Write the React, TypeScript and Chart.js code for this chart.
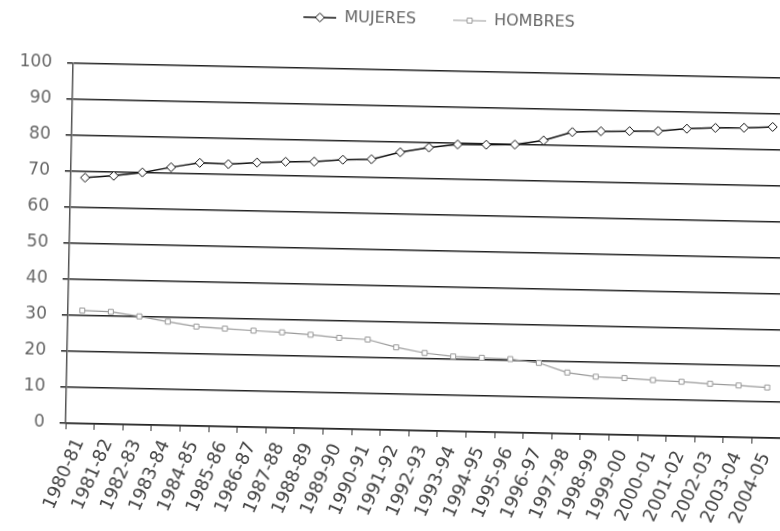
import React, { useEffect, useRef } from "react";
import { Chart, registerables } from "chart.js";

Chart.register(...registerables);

const CATEGORIES = [
  "1980-81", "1981-82", "1982-83", "1983-84", "1984-85", "1985-86", "1986-87",
  "1987-88", "1988-89", "1989-90", "1990-91", "1991-92", "1992-93", "1993-94",
  "1994-95", "1995-96", "1996-97", "1997-98", "1998-99", "1999-00", "2000-01",
  "2001-02", "2002-03", "2003-04", "2004-05",
];

const MUJERES = [
  68.3, 69.0, 70.1, 71.7, 73.1, 72.9, 73.5, 73.9, 74.1, 74.8, 75.1, 77.2, 78.7,
  79.7, 79.8, 80.0, 81.3, 83.8, 84.2, 84.4, 84.6, 85.4, 85.8, 86.0, 86.4,
];

const HOMBRES = [
  31.4, 31.2, 30.1, 28.8, 27.6, 27.2, 26.8, 26.5, 26.0, 25.3, 25.0, 23.0, 21.6,
  20.8, 20.6, 20.4, 19.5, 17.0, 16.0, 15.8, 15.4, 15.1, 14.7, 14.4, 14.0,
];

const SERIES_NAMES = ["MUJERES", "HOMBRES"];

const W = 842;
const H = 531;

function legendImage(kind: number): HTMLCanvasElement {
  const c = document.createElement("canvas");
  c.width = 59;
  c.height = 12;
  const ctx = c.getContext("2d")!;
  const cy = 6;
  if (kind === 0) {
    ctx.strokeStyle = "#111";
    ctx.lineWidth = 1.5;
    ctx.beginPath();
    ctx.moveTo(26, cy);
    ctx.lineTo(59, cy);
    ctx.stroke();
    ctx.fillStyle = "#fff";
    ctx.lineWidth = 1;
    ctx.beginPath();
    ctx.moveTo(42.5, cy - 4.5);
    ctx.lineTo(47, cy);
    ctx.lineTo(42.5, cy + 4.5);
    ctx.lineTo(38, cy);
    ctx.closePath();
    ctx.fill();
    ctx.stroke();
  } else {
    ctx.strokeStyle = "#999";
    ctx.lineWidth = 1.2;
    ctx.beginPath();
    ctx.moveTo(26, cy);
    ctx.lineTo(59, cy);
    ctx.stroke();
    ctx.fillStyle = "#fff";
    ctx.lineWidth = 1;
    ctx.beginPath();
    ctx.rect(40, cy - 2.5, 5, 5);
    ctx.fill();
    ctx.stroke();
  }
  return c;
}

export default function App() {
  const ref = useRef<HTMLCanvasElement | null>(null);

  useEffect(() => {
    if (!ref.current) return;
    const imgs = [legendImage(0), legendImage(1)];

    const legendSpacer = {
      id: "legendSpacer",
      beforeLayout(chart: any) {
        const lg = chart.legend;
        if (lg && !lg._patched) {
          const orig = lg.fit.bind(lg);
          lg.fit = function () {
            orig();
            this.height = 70;
          };
          lg._patched = true;
        }
      },
    };

    const chart = new Chart(ref.current, {
      type: "line",
      data: {
        labels: CATEGORIES,
        datasets: [
          {
            label: SERIES_NAMES[0],
            data: MUJERES,
            borderColor: "#111",
            borderWidth: 1.5,
            pointStyle: "rectRot",
            pointRadius: 4.5,
            pointBackgroundColor: "#fff",
            pointBorderColor: "#111",
            pointBorderWidth: 1,
            tension: 0,
          },
          {
            label: SERIES_NAMES[1],
            data: HOMBRES,
            borderColor: "#9a9a9a",
            borderWidth: 1.2,
            pointStyle: "rect",
            pointRadius: 3.5,
            pointBackgroundColor: "#fff",
            pointBorderColor: "#999",
            pointBorderWidth: 1,
            tension: 0,
          },
        ],
      },
      options: {
        animation: false,
        responsive: false,
        devicePixelRatio: 1,
        layout: { padding: 0 },
        plugins: {
          tooltip: { enabled: false },
          legend: {
            position: "top",
            labels: {
              usePointStyle: true,
              pointStyleWidth: 59,
              padding: 11,
              color: "#666",
              font: { family: "DejaVu Sans", size: 16 },
              generateLabels: (ch: any) => {
                const items = (Chart.defaults.plugins.legend.labels as any).generateLabels(ch);
                items.forEach((it: any, i: number) => {
                  it.pointStyle = imgs[i];
                });
                return items;
              },
            },
          },
        },
        scales: {
          x: {
            offset: true,
            grid: {
              offset: true,
              drawOnChartArea: false,
              drawTicks: true,
              tickLength: 6,
              color: "#333",
              lineWidth: 1,
            },
            border: { display: true, color: "#222", width: 1.5 },
            ticks: {
              autoSkip: false,
              minRotation: 67,
              maxRotation: 67,
              color: "#444",
              padding: 6,
              font: { family: "DejaVu Sans", size: 18 },
            },
            afterFit: (s: any) => {
              s.height = H - 430;
            },
          },
          y: {
            min: 0,
            max: 100,
            ticks: {
              stepSize: 10,
              color: "#666",
              padding: 15,
              font: { family: "DejaVu Sans", size: 17 },
            },
            grid: {
              color: "#222",
              lineWidth: 1.5,
              tickLength: 6,
              drawTicks: true,
            },
            border: { display: true, color: "#555", width: 1.5 },
            afterFit: (s: any) => {
              s.width = 69;
            },
          },
          y2: {
            type: "linear",
            position: "right",
            display: true,
            grid: { drawOnChartArea: false, drawTicks: false },
            border: { display: false },
            ticks: { display: false },
            afterFit: (s: any) => {
              s.width = W - 784;
            },
          },
        },
      },
      plugins: [legendSpacer],
    });

    return () => chart.destroy();
  }, []);

  return (
    <div
      style={{
        position: "fixed",
        left: 0,
        top: 0,
        width: 780,
        height: 531,
        overflow: "hidden",
        background: "#fff",
      }}
    >
      <div
        style={{
          position: "absolute",
          left: 0,
          top: 0,
          width: W,
          height: H,
          transform: "rotate(1.2deg)",
          transformOrigin: "390px 265px",
        }}
      >
        <canvas ref={ref} width={W} height={H} style={{ display: "block" }} />
      </div>
    </div>
  );
}
